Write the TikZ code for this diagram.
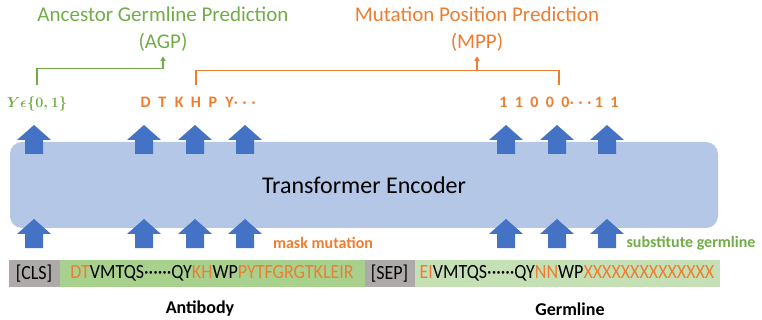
\documentclass[tikz,border=0pt]{standalone}
\usepackage{amsmath}
\usepackage{graphicx}
\usepackage{fontspec}
\setmainfont{Carlito}
\usetikzlibrary{arrows.meta}
\definecolor{tgreen}{HTML}{70AD47}
\definecolor{torange}{HTML}{ED7D31}
\definecolor{ablue}{HTML}{4472C4}
\definecolor{encfill}{HTML}{B4C7E7}
\definecolor{seqgreen}{HTML}{A9D18E}
\definecolor{seqgreenb}{HTML}{C5E0B4}
\definecolor{tokgray}{HTML}{AEAAAA}
\newcommand{\og}[1]{\textcolor{torange}{#1}}
\newcommand{\lbox}[1]{\makebox[16.8pt]{#1}}
\newcommand{\dbox}[1]{\makebox[15.5pt]{#1}}
\newcommand{\tallseq}[1]{\scalebox{1}[1.12]{#1}}
\begin{document}
\begin{tikzpicture}[x=1pt,y=-1pt,
  title/.style={font=\fontsize{21}{21}\selectfont, inner sep=0pt},
  outlab/.style={font=\fontsize{16}{16}\selectfont\bfseries, inner sep=0pt, text height=11pt, text depth=3pt},
  seqbox/.style={inner sep=0pt, minimum height=27.4pt, anchor=north west, font=\fontsize{18}{18}\selectfont},
  sidelab/.style={font=\fontsize{16}{16}\selectfont\bfseries, inner sep=0pt},
  bottomlab/.style={font=\fontsize{18}{18}\selectfont\bfseries, inner sep=0pt},
  bracket/.style={line width=1.4pt},
  smalltip/.style={-{Triangle[width=5pt,length=4.5pt]}},
  uparrow/.pic={\fill[ablue] (-9,0) -- (-9,-14) -- (-17,-14) -- (0,-29) -- (17,-14) -- (9,-14) -- (9,0) -- cycle;}
]
\useasboundingbox (0,0) rectangle (762,320);

% titles
\node[title, text=tgreen] (agptitle) at (163,14) {Ancestor Germline Prediction};
\node[title, text=tgreen] (agp) at (163,42) {(AGP)};
\node[title, text=torange] (mpptitle) at (477,14) {Mutation Position Prediction};
\node[title, text=torange] (mpp) at (477,42) {(MPP)};

% output labels
\node[outlab, text=tgreen, font=\fontsize{15.5}{15.5}\selectfont\boldmath] (ylab) at (37,104) {$Y\epsilon\{0,1\}$};
\node[outlab, text=torange] (dtk) at (196,104)
  {\lbox{D}\lbox{T}\lbox{K}\lbox{H}\lbox{P}\lbox{Y}\lbox{$\boldsymbol{\cdots}$}};
\node[outlab, text=torange] (bits) at (559,104)
  {\dbox{1}\dbox{1}\dbox{0}\dbox{0}\dbox{0}\makebox[18pt]{$\boldsymbol{\cdots}$}\dbox{1}\dbox{1}};

% brackets
\draw[bracket, tgreen, smalltip] ([yshift=12pt]ylab.north) -- ++(0,-16) -| ([yshift=-5pt]agp.south);
\draw[bracket, torange] ([yshift=12pt]dtk.north) -- ++(0,-14) coordinate (mppl) -| ([yshift=12pt]bits.north);
\draw[bracket, torange, smalltip] (mppl -| mpp.south) -- ([yshift=-5pt]mpp.south);

% encoder
\node[fill=encfill, rounded corners=12pt, minimum width=708pt, minimum height=86pt, inner sep=0pt,
      font=\fontsize{24}{24}\selectfont] (enc) at (364,185) {Transformer Encoder};

% arrows
\foreach \x in {34,144,195,245,506,557,607} {
  \pic at (\x,154) {uparrow};
  \pic at (\x,248) {uparrow};
}

% side labels
\node[sidelab, text=torange] (mask) at (323,243) {mask mutation};
\node[sidelab, text=tgreen] (subst) at (691,243) {substitute germline};

% sequence
\node[seqbox, fill=tokgray, minimum width=51pt] (cls) at (8.3,259.3) {\tallseq{[CLS]}};
\node[seqbox, fill=seqgreen, minimum width=305pt] (ab) at (59.3,259.3)
  {\tallseq{\og{DT}VMTQS······QY\og{KH}WP\og{PYTFGRGTKLEIR}}};
\node[seqbox, fill=tokgray, minimum width=50pt] (sep) at (364.3,259.3) {\tallseq{[SEP]}};
\node[seqbox, fill=seqgreenb, minimum width=305pt] (gl) at (414.3,259.3)
  {\tallseq{\og{EI}VMTQS······QY\og{NN}WP\og{XXXXXXXXXXXXXX}}};

% bottom labels
\node[bottomlab] (ablab) at (200,309) {Antibody};
\node[bottomlab] (gllab) at (570,309) {Germline};
\end{tikzpicture}
\end{document}
